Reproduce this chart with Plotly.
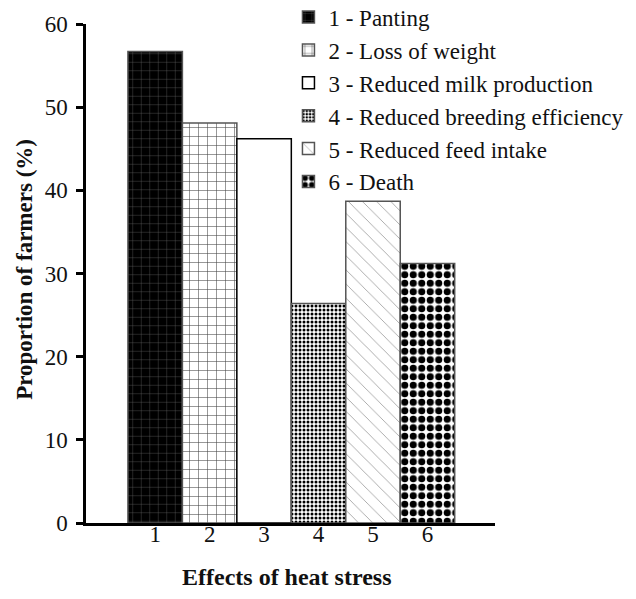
import plotly.graph_objects as go

categories = [1, 2, 3, 4, 5, 6]
names = ["1 - Panting", "2 - Loss of weight", "3 - Reduced milk production",
         "4 - Reduced breeding efficiency", "5 - Reduced feed intake", "6 - Death"]
values = [56.7, 48.1, 46.2, 26.4, 38.7, 31.2]
y_ticks = [0, 10, 20, 30, 40, 50, 60]

styles = [
    dict(shape="+", fg="#6a6a6a", bg="black", size=8.5, sol=0.08, line="#555"),
    dict(shape="+", fg="#444444", bg="white", size=9, sol=0.12, line="#555"),
    dict(shape="", fg="black", bg="white", size=8, sol=0.2, line="black"),
    dict(shape=".", fg="black", bg="white", size=4, sol=0.45, line="#555"),
    dict(shape="\\", fg="#999999", bg="white", size=10, sol=0.08, line="#555"),
    dict(shape=".", fg="black", bg="white", size=8.5, sol=0.55, line="#555"),
]

fig = go.Figure()
for c, n, v, s in zip(categories, names, values, styles):
    fig.add_trace(go.Bar(
        x=[c], y=[v], name=n, width=1,
        marker=dict(
            color=s["bg"],
            line=dict(color=s["line"], width=1.5),
            pattern=dict(shape=s["shape"], fgcolor=s["fg"], bgcolor=s["bg"],
                         size=s["size"], solidity=s["sol"], fillmode="replace"),
        ),
    ))

font_family = "Liberation Serif"
fig.update_layout(
    width=636, height=599,
    margin=dict(l=86, r=141, t=24, b=76, autoexpand=False),
    plot_bgcolor="white", paper_bgcolor="white",
    barmode="overlay",
    font=dict(family=font_family, size=23, color="#111"),
    showlegend=True,
    legend=dict(x=0.495, y=1.057, xanchor="left", yanchor="top",
                bgcolor="rgba(0,0,0,0)", font=dict(family=font_family, size=23),
                itemwidth=30),
    xaxis=dict(range=[-0.27, 7.24], tickmode="array", tickvals=categories,
               ticktext=[str(c) for c in categories], showgrid=False,
               zeroline=False, showline=True, linecolor="black", linewidth=2.5,
               ticks="", tickfont=dict(family=font_family, size=23),
               ticklabelstandoff=-11),
    yaxis=dict(range=[0, 60], tickmode="array", tickvals=y_ticks,
               showgrid=False, zeroline=False, showline=True, linecolor="black",
               linewidth=2.5, ticks="outside", ticklen=7, tickwidth=2.5,
               tickcolor="black", tickfont=dict(family=font_family, size=23),
               ticklabelstandoff=4),
    annotations=[
        dict(text="<b>Proportion of farmers (%)</b>", textangle=-90,
             xref="paper", yref="paper", x=-0.152, y=0.509,
             xanchor="center", yanchor="middle", showarrow=False,
             font=dict(family=font_family, size=23)),
        dict(text="<b>Effects of heat stress</b>",
             xref="paper", yref="paper", x=0.491, y=-0.108,
             xanchor="center", yanchor="middle", showarrow=False,
             font=dict(family=font_family, size=24)),
    ],
)

fig.write_html("out.html", config={"displayModeBar": False},
               post_script="document.body.style.margin='0px';")
